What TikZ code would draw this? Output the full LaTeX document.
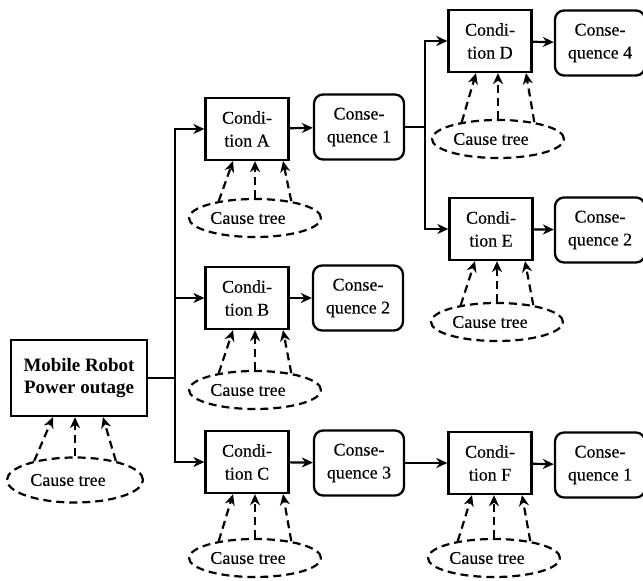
\documentclass[tikz,border=0pt]{standalone}
\usepackage{fontspec}
\setmainfont{Liberation Serif}[UprightFeatures={FakeBold=0.3}]
\usetikzlibrary{arrows.meta,shapes.geometric,calc}

\begin{document}
\begin{tikzpicture}[x=1bp, y=-1bp,
    every node/.style={font=\fontsize{18}{23}\selectfont, align=center, inner sep=0pt},
    cond/.style={draw, line width=2.3bp, minimum width=83bp, minimum height=62bp},
    conseq/.style={draw, line width=2.3bp, rounded corners=9bp, minimum width=90bp, minimum height=65bp},
    cause/.style={draw, ellipse, dash pattern=on 8bp off 5bp, line width=2.2bp,
        minimum width=132bp, minimum height=38bp, execute at end node=\kern14bp},
    flow/.style={line width=2.2bp, -{Stealth[length=11bp, width=10bp, inset=3.5bp]}},
    causearr/.style={flow, dash pattern=on 8bp off 5bp}]
    \useasboundingbox (0,0) rectangle (643,581);

    % Top event
    \node[draw, line width=2.3bp, minimum width=136bp, minimum height=76bp,
        font=\fontsize{19}{22}\selectfont\bfseries] (robot) at (79,378) {Mobile Robot\\Power outage};
    \node[cause, minimum width=136bp, minimum height=45bp] (causeR) at (75,480) {Cause tree};

    % Conditions
    \node[cond] (condA) at (247,129) {Condi-\\tion A};
    \node[cond] (condB) at (247,298) {Condi-\\tion B};
    \node[cond] (condC) at (247,462) {Condi-\\tion C};
    \node[cond] (condD) at (490,41) {Condi-\\tion D};
    \node[cond] (condE) at (491,229) {Condi-\\tion E};
    \node[cond] (condF) at (490,463) {Condi-\\tion F};

    % Consequences
    \node[conseq] (consA) at (359,127) {Conse-\\quence 1};
    \node[conseq] (consB) at (358,298) {Conse-\\quence 2};
    \node[conseq] (consC) at (359,463) {Conse-\\quence 3};
    \node[conseq] (consD) at (600,43) {Conse-\\quence 4};
    \node[conseq] (consE) at (600,230) {Conse-\\quence 2};
    \node[conseq] (consF) at (600,465) {Conse-\\quence 1};

    % Cause trees
    \node[cause] (causeA) at (255,218) {Cause tree};
    \node[cause] (causeB) at (255,390) {Cause tree};
    \node[cause] (causeC) at (255,558) {Cause tree};
    \node[cause] (causeD) at (498,139) {Cause tree};
    \node[cause] (causeE) at (497,322) {Cause tree};
    \node[cause] (causeF) at (494,558) {Cause tree};

    \foreach \c/\b in {causeR/robot, causeA/condA, causeB/condB, causeC/condC,
                       causeD/condD, causeE/condE, causeF/condF} {
        \draw[causearr] (\c.155) -- ($(\c.north |- \b.south)+(-22,0)$);
        \draw[causearr] (\c.north) -- (\c.north |- \b.south);
        \draw[causearr] (\c.25) -- ($(\c.north |- \b.south)+(28,0)$);
    }

    % Branches
    \coordinate (splitR) at (175,378);
    \coordinate (splitA) at (425,127);
    \draw[line width=2.2bp] (robot.east) -- (splitR);
    \draw[flow] (splitR) |- (condA.west);
    \draw[flow] (splitR) |- (condB.west);
    \draw[flow] (splitR) |- (condC.west);
    \draw[flow] (condA) -- (consA);
    \draw[flow] (condB) -- (consB);
    \draw[flow] (condC) -- (consC);
    \draw[line width=2.2bp] (consA.east) -- (splitA);
    \draw[flow] (splitA) |- (condD.west);
    \draw[flow] (splitA) |- (condE.west);
    \draw[flow] (condD) -- (consD);
    \draw[flow] (condE) -- (consE);
    \draw[flow] (consC) -- (condF);
    \draw[flow] (condF) -- (consF);
\end{tikzpicture}
\end{document}
